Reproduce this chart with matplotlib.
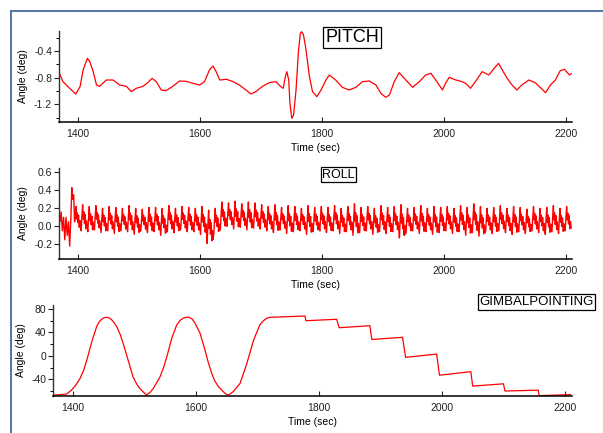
import numpy as np
import matplotlib
matplotlib.use("Agg")
import matplotlib.pyplot as plt
from matplotlib.ticker import MultipleLocator, FixedLocator, FormatStrFormatter

plt.rcParams['font.family'] = ['Liberation Sans', 'DejaVu Sans']
plt.rcParams['axes.unicode_minus'] = False

# ---------------- data ----------------
pitch_t = [1370, 1376, 1387, 1397, 1404, 1409, 1416, 1420, 1425.5, 1431, 1436, 1447, 1458,
           1469, 1480, 1488, 1496, 1507, 1515, 1522, 1529, 1537, 1545, 1556, 1567, 1578,
           1589, 1600, 1608, 1616, 1622, 1627, 1633, 1644, 1655, 1665, 1676, 1684, 1692,
           1703, 1714, 1725, 1733, 1737, 1740.5, 1743, 1746, 1748, 1751, 1754, 1758, 1762,
           1765, 1767, 1770, 1774, 1780, 1785, 1792, 1799, 1807, 1812.5, 1823, 1834, 1845, 1856,
           1867, 1878, 1889, 1897, 1905, 1911, 1919, 1927, 1938, 1949, 1960, 1970.5, 1979,
           1987, 1998, 2003, 2009, 2020, 2030, 2036, 2044, 2052, 2063, 2074, 2085, 2090,
           2096, 2104, 2112, 2120, 2128, 2139.5, 2150, 2158, 2167, 2175, 2183, 2191, 2198,
           2206, 2209]
pitch_v = [-0.73, -0.86, -0.96, -1.045, -0.935, -0.685, -0.51, -0.56, -0.71, -0.91, -0.93,
           -0.835, -0.835, -0.91, -0.93, -1.01, -0.96, -0.93, -0.875, -0.81, -0.86, -0.985,
           -0.995, -0.93, -0.85, -0.855, -0.885, -0.91, -0.86, -0.685, -0.625, -0.71, -0.835,
           -0.825, -0.86, -0.91, -0.985, -1.045, -1.01, -0.93, -0.875, -0.86, -0.935, -0.96,
           -0.785, -0.71, -0.835, -1.185, -1.41, -1.36, -0.985, -0.40,
           -0.14, -0.11, -0.15, -0.36,
           -0.785, -1.01, -1.085, -0.985, -0.835, -0.76, -0.835, -0.945, -0.985, -0.945,
           -0.86, -0.85, -0.91, -1.035, -1.095, -1.06, -0.86, -0.725, -0.835, -0.945, -0.86,
           -0.76, -0.735, -0.835, -0.985, -0.885, -0.795, -0.835, -0.86, -0.885, -0.96,
           -0.86, -0.71, -0.76, -0.635, -0.585, -0.685, -0.81, -0.91, -0.985, -0.91, -0.835,
           -0.875, -0.945, -1.025, -0.91, -0.835, -0.695, -0.675, -0.76, -0.74]

# irregular start of the roll record
roll_start_t = [1369, 1371, 1373, 1375, 1377, 1379, 1381, 1383, 1385, 1387, 1389, 1390.5,
                1392, 1393.5, 1395]
roll_start_v = [0.15, 0.05, 0.16, -0.05, 0.10, -0.15, 0.10, -0.10, 0.05, -0.22, 0.10, 0.43,
                0.30, 0.35, 0.05]
roll_cycle_start = 1395
roll_cycle_end = 2210
roll_peak = [0.22, 0.24, 0.22, 0.23, 0.20, 0.22, 0.21, 0.20, 0.23, 0.20, 0.19, 0.21, 0.21,
             0.20, 0.23, 0.20, 0.22, 0.21,
             0.20, 0.22, 0.18, 0.20,
             0.27, 0.26, 0.28, 0.25, 0.27, 0.26, 0.24,
             0.22, 0.24, 0.21, 0.23, 0.22, 0.20, 0.23, 0.21, 0.22,
             0.21, 0.23, 0.20, 0.22, 0.25, 0.21, 0.22, 0.20, 0.23, 0.21, 0.22, 0.24, 0.20,
             0.21, 0.23, 0.20, 0.22, 0.21,
             0.22, 0.20, 0.23, 0.21, 0.25, 0.22, 0.20, 0.21, 0.23, 0.20, 0.22, 0.21, 0.19,
             0.22, 0.20, 0.21, 0.23, 0.20, 0.22]
roll_trough = [-0.03, -0.05, -0.06, -0.04, -0.07, -0.05, -0.08, -0.05, -0.06, -0.09, -0.05,
               -0.07, -0.06, -0.10, -0.05, -0.07, -0.04, -0.06,
               -0.06, -0.09, -0.19, -0.08,
               -0.02, 0.00, -0.03, -0.01, -0.04, -0.02, -0.03,
               -0.05, -0.07, -0.04, -0.08, -0.06, -0.05, -0.09, -0.06, -0.05,
               -0.07, -0.05, -0.08, -0.06, -0.10, -0.07, -0.05, -0.09, -0.06, -0.08, -0.06,
               -0.13, -0.07, -0.05, -0.08, -0.06, -0.09, -0.07,
               -0.05, -0.08, -0.06, -0.10, -0.07, -0.11, -0.06, -0.08, -0.05, -0.07, -0.09,
               -0.06, -0.08, -0.05, -0.07, -0.09, -0.06, -0.08, -0.05]

gimbal_t = [1368.5, 1390, 1398, 1405, 1412, 1418, 1423, 1431, 1439, 1443, 1447, 1451, 1455,
            1459, 1463, 1467, 1471.5, 1477, 1482, 1490, 1498, 1504, 1509, 1515, 1520, 1526,
            1531, 1542, 1548, 1553, 1561, 1569, 1575, 1580, 1585, 1589, 1594, 1599, 1607,
            1615, 1620, 1626, 1631, 1637, 1647.5, 1653, 1661, 1672, 1683, 1694, 1704, 1710,
            1715, 1721, 1777.5, 1779, 1829, 1833, 1883, 1886, 1936, 1941, 1991.5, 1996, 2047,
            2050, 2100, 2102.5, 2156.5, 2158, 2209]
gimbal_v = [-67, -65.3, -58.5, -50, -38.5, -24, -7, 24, 50, 58, 62.4, 65, 65.8, 65, 62,
            57, 50, 37, 21.4, -7, -35.7, -48, -55.6, -62, -67, -62, -55.6, -35.7, -19,
            -1.5, 30, 52.6, 61, 64.5, 65.8, 65.8, 63, 55.6, 38.5, 10, -10, -30, -43, -52.8,
            -64, -67, -61, -47, -13, 27, 52.6, 60, 64, 65.8, 68, 60, 62.4, 48, 51.5, 28,
            31.6, -2.5, 3, -33, -27, -51.6, -47.7, -60, -58.5, -68, -66]

# ---------------- build roll trace ----------------
n_cyc = len(roll_peak)
period = (roll_cycle_end - roll_cycle_start) / n_cyc
frac_t = [0.0, 0.11, 0.22, 0.31, 0.40, 0.50, 0.60, 0.71, 0.80, 0.90]
frac_v = [0.0, 0.55, 1.0, 0.45, 0.72, 0.28, 0.62, 0.08, 0.38, 0.12]
roll_t = list(roll_start_t)
roll_v = list(roll_start_v)
for i in range(n_cyc):
    t0 = roll_cycle_start + i * period
    lo, hi = roll_trough[i], roll_peak[i]
    for ft, fv in zip(frac_t, frac_v):
        if i == 0 and ft == 0.0:
            continue
        roll_t.append(t0 + ft * period)
        roll_v.append(lo + fv * (hi - lo))

# ---------------- figure ----------------
W, H = 603, 433
fig = plt.figure(figsize=(W / 100, H / 100), dpi=100)
fig.patch.set_facecolor('white')

def px_axes(left, top, right, bottom):
    return fig.add_axes([left / W, 1 - bottom / H, (right - left) / W, (bottom - top) / H])

ax1 = px_axes(59, 31, 571.7, 122)
ax2 = px_axes(59, 168, 571.7, 259)
ax3 = px_axes(53.3, 305, 571.7, 396)

red = '#ff0000'
ax1.plot(pitch_t, pitch_v, color=red, lw=0.9)
ax2.plot(roll_t, roll_v, color=red, lw=1.0)
ax3.plot(gimbal_t, gimbal_v, color=red, lw=0.9)

ax1.set_xlim(1369.5, 2209.8)
ax2.set_xlim(1369.5, 2209.8)
ax3.set_xlim(1368.5, 2210.9)
ax1.set_ylim(-1.465, -0.1)
ax2.set_ylim(-0.363, 0.648)
ax3.set_ylim(-68.5, 86.8)

ax1.yaxis.set_major_locator(FixedLocator([-1.2, -0.8, -0.4]))
ax1.yaxis.set_minor_locator(FixedLocator([-1.4, -1.0, -0.6, -0.2]))
ax2.yaxis.set_major_locator(FixedLocator([-0.2, 0.0, 0.2, 0.4, 0.6]))
ax3.yaxis.set_major_locator(FixedLocator([-40, 0, 40, 80]))
ax3.yaxis.set_minor_locator(FixedLocator([-60, -20, 20, 60]))

for ax in (ax1, ax2, ax3):
    ax.xaxis.set_major_locator(MultipleLocator(200))
    for s in ('top', 'right'):
        ax.spines[s].set_visible(False)
    ax.spines['left'].set_linewidth(1.0)
    ax.spines['bottom'].set_linewidth(1.1)
    ax.spines['left'].set_color('#333333')
    ax.tick_params(axis='y', which='major', direction='out', length=3.5, width=0.8,
                   labelsize=7.5, pad=1.5, colors='#222222')
    ax.tick_params(axis='y', which='minor', direction='out', length=2, width=0.7)
    ax.tick_params(axis='x', which='major', direction='in', length=3.5, width=0.8,
                   labelsize=7.5, pad=5, colors='#222222')
    ax.set_ylabel('Angle (deg)', fontsize=7.5, labelpad=4)
    ax.set_xlabel('Time (sec)', fontsize=7.5, labelpad=3)
    ax.patch.set_alpha(0)

ax1.yaxis.set_major_formatter(FormatStrFormatter('%.1f'))
ax2.yaxis.set_major_formatter(FormatStrFormatter('%.1f'))
ax3.yaxis.set_major_formatter(FormatStrFormatter('%d'))

box = dict(boxstyle='square,pad=0.12', facecolor='white', edgecolor='black', linewidth=0.9)
fig.text(352 / W, 1 - 37.5 / H, 'PITCH', fontsize=13, ha='center', va='center', bbox=box)
fig.text(338.5 / W, 1 - 174.5 / H, 'ROLL', fontsize=9, ha='center', va='center', bbox=box)
fig.text(536.5 / W, 1 - 302 / H, 'GIMBALPOINTING', fontsize=9.5, ha='center', va='center',
         bbox=box)

# outer blue frame (cut at right and bottom)
frame = '#5274a8'
fig.add_artist(plt.Line2D([10.5 / W, 10.5 / W], [0, 1 - 11 / H], color=frame, lw=1.4,
                          transform=fig.transFigure))
fig.add_artist(plt.Line2D([10.5 / W, 1], [1 - 11 / H, 1 - 11 / H], color=frame, lw=1.4,
                          transform=fig.transFigure))

fig.savefig('out.png', dpi=100)
